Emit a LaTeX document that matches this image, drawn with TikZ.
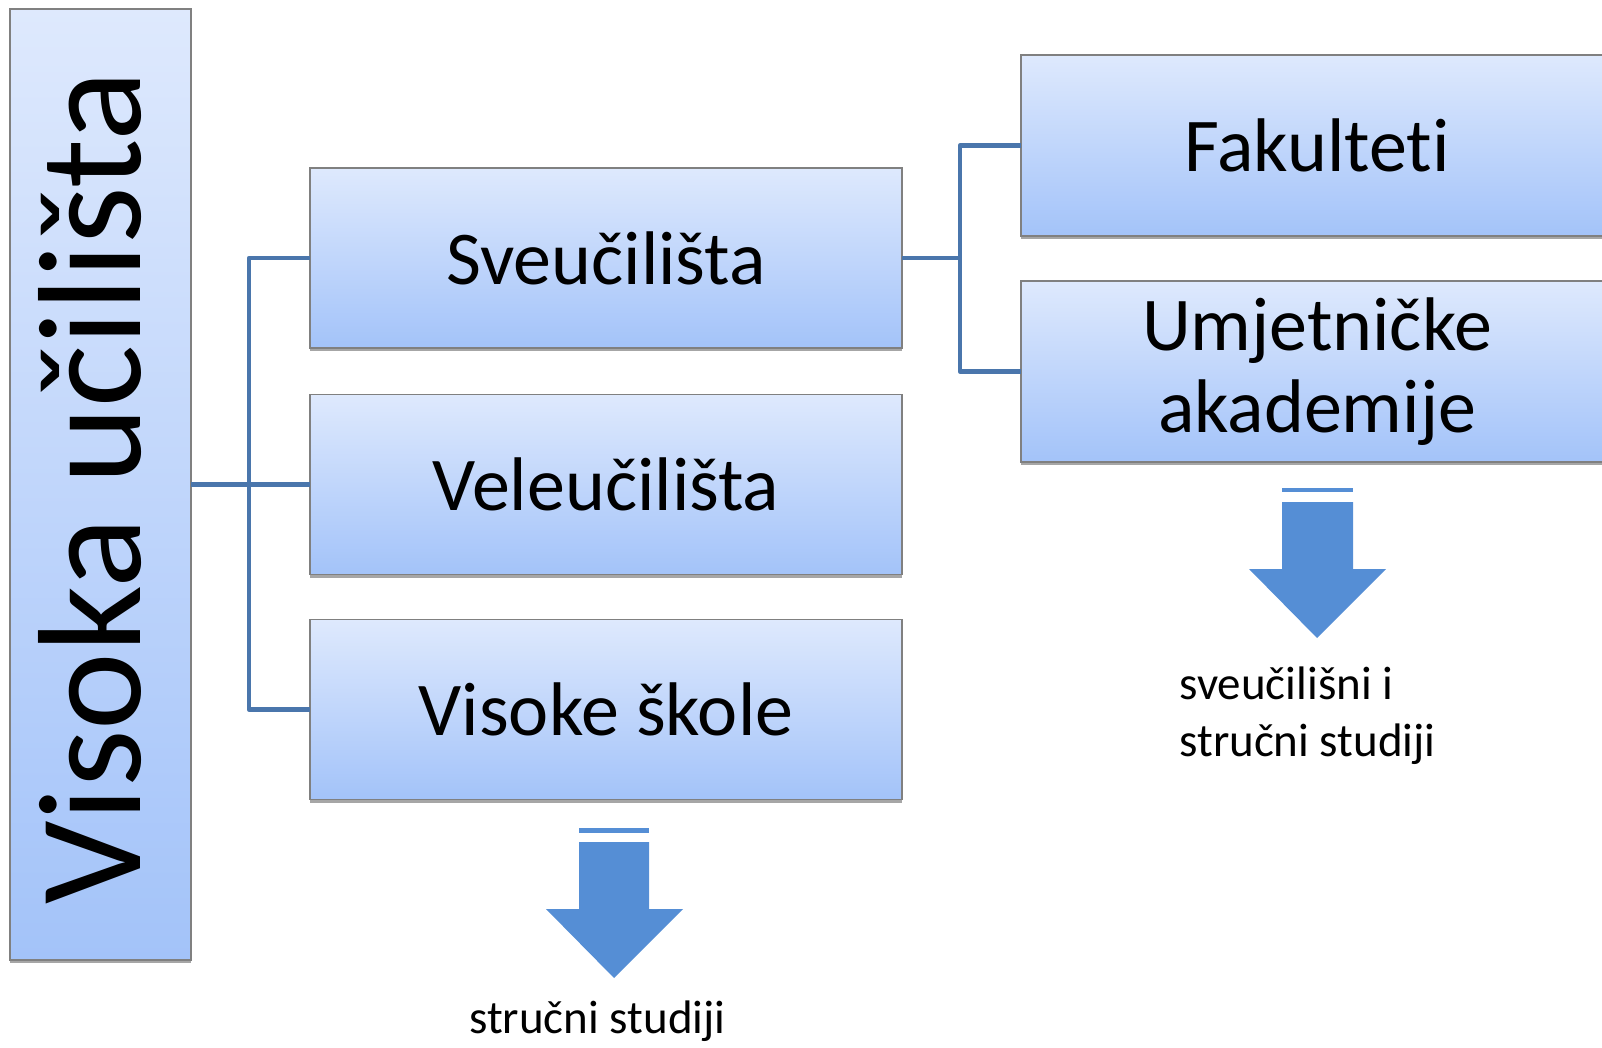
\documentclass[tikz,border=0pt]{standalone}
\usepackage{fontspec}
\setmainfont[Ligatures=NoCommon]{Carlito}
\usetikzlibrary{shadows}
\definecolor{boxtop}{RGB}{222,233,253}
\definecolor{boxbottom}{RGB}{163,195,249}
\definecolor{boxline}{RGB}{128,128,128}
\definecolor{linkblue}{RGB}{74,118,172}
\definecolor{arrowblue}{RGB}{85,142,213}
\begin{document}
\begin{tikzpicture}[x=0.5pt,y=0.5pt,yscale=-1,xscale=1,
  levelbox/.style={draw=boxline,line width=0.6pt,top color=boxtop,bottom color=boxbottom,
    minimum width=296pt,minimum height=90pt,inner sep=0pt,outer sep=0pt,align=center,
    font=\fontsize{38}{41}\selectfont,
    drop shadow={shadow xshift=0pt,shadow yshift=-1.5pt,opacity=0.35,fill=black}},
  link/.style={draw=linkblue,line width=2.2pt,line join=round},
  studylabel/.style={inner sep=0pt,font=\fontsize{23.5}{28.5}\selectfont}]
\useasboundingbox (0,0) rectangle (1602,1048);

%Visoka ucilista
\node[levelbox,minimum width=90.5pt,minimum height=475.5pt] (vu) at (100.5,484.5) {};
\node[rotate=90,anchor=base,inner sep=0pt,font=\fontsize{73.5}{80}\selectfont] (vulabel) at (140,487.5) {Visoka učilišta};

%middle level
\node[levelbox] (sveu) at (606,258) {Sveučilišta};
\node[levelbox] (veleu) at (606,484.5) {Veleučilišta};
\node[levelbox] (skole) at (606,709.5) {Visoke škole};

%right level
\node[levelbox,minimum height=90.5pt] (fak) at (1317,145.5) {Fakulteti};
\node[levelbox,minimum height=90.5pt] (akad) at (1317,371.5) {Umjetničke\\akademije};

%connectors
\coordinate (lfork) at (249,484.5);
\coordinate (rfork) at (960,258);
\draw[link] (vu.east) -- (lfork) -- (veleu.west);
\draw[link] (sveu.west) -| (lfork) |- (skole.west);
\draw[link] (sveu.east) -- (rfork);
\draw[link] (fak.west) -| (rfork) |- (akad.west);

%Shape: Striped Down Arrow
\fill[arrowblue] (579,828) rectangle (649,833);
\fill[arrowblue] (579,842) -- (649,842) -- (649,909) -- (683,909) -- (614,978) -- (546,909) -- (579,909) -- cycle;
%Shape: Striped Down Arrow
\fill[arrowblue] (1282,488) rectangle (1353,492);
\fill[arrowblue] (1282,502) -- (1353,502) -- (1353,569) -- (1386,569) -- (1317,638) -- (1249,569) -- (1282,569) -- cycle;

% Text Node
\node[studylabel,anchor=base] (strucni) at (597.5,1033) {stručni studiji};
% Text Node
\node[studylabel,anchor=base west,align=left] (sveustud) at (1179,756) {sveučilišni i\\stručni studiji};
\end{tikzpicture}
\end{document}
